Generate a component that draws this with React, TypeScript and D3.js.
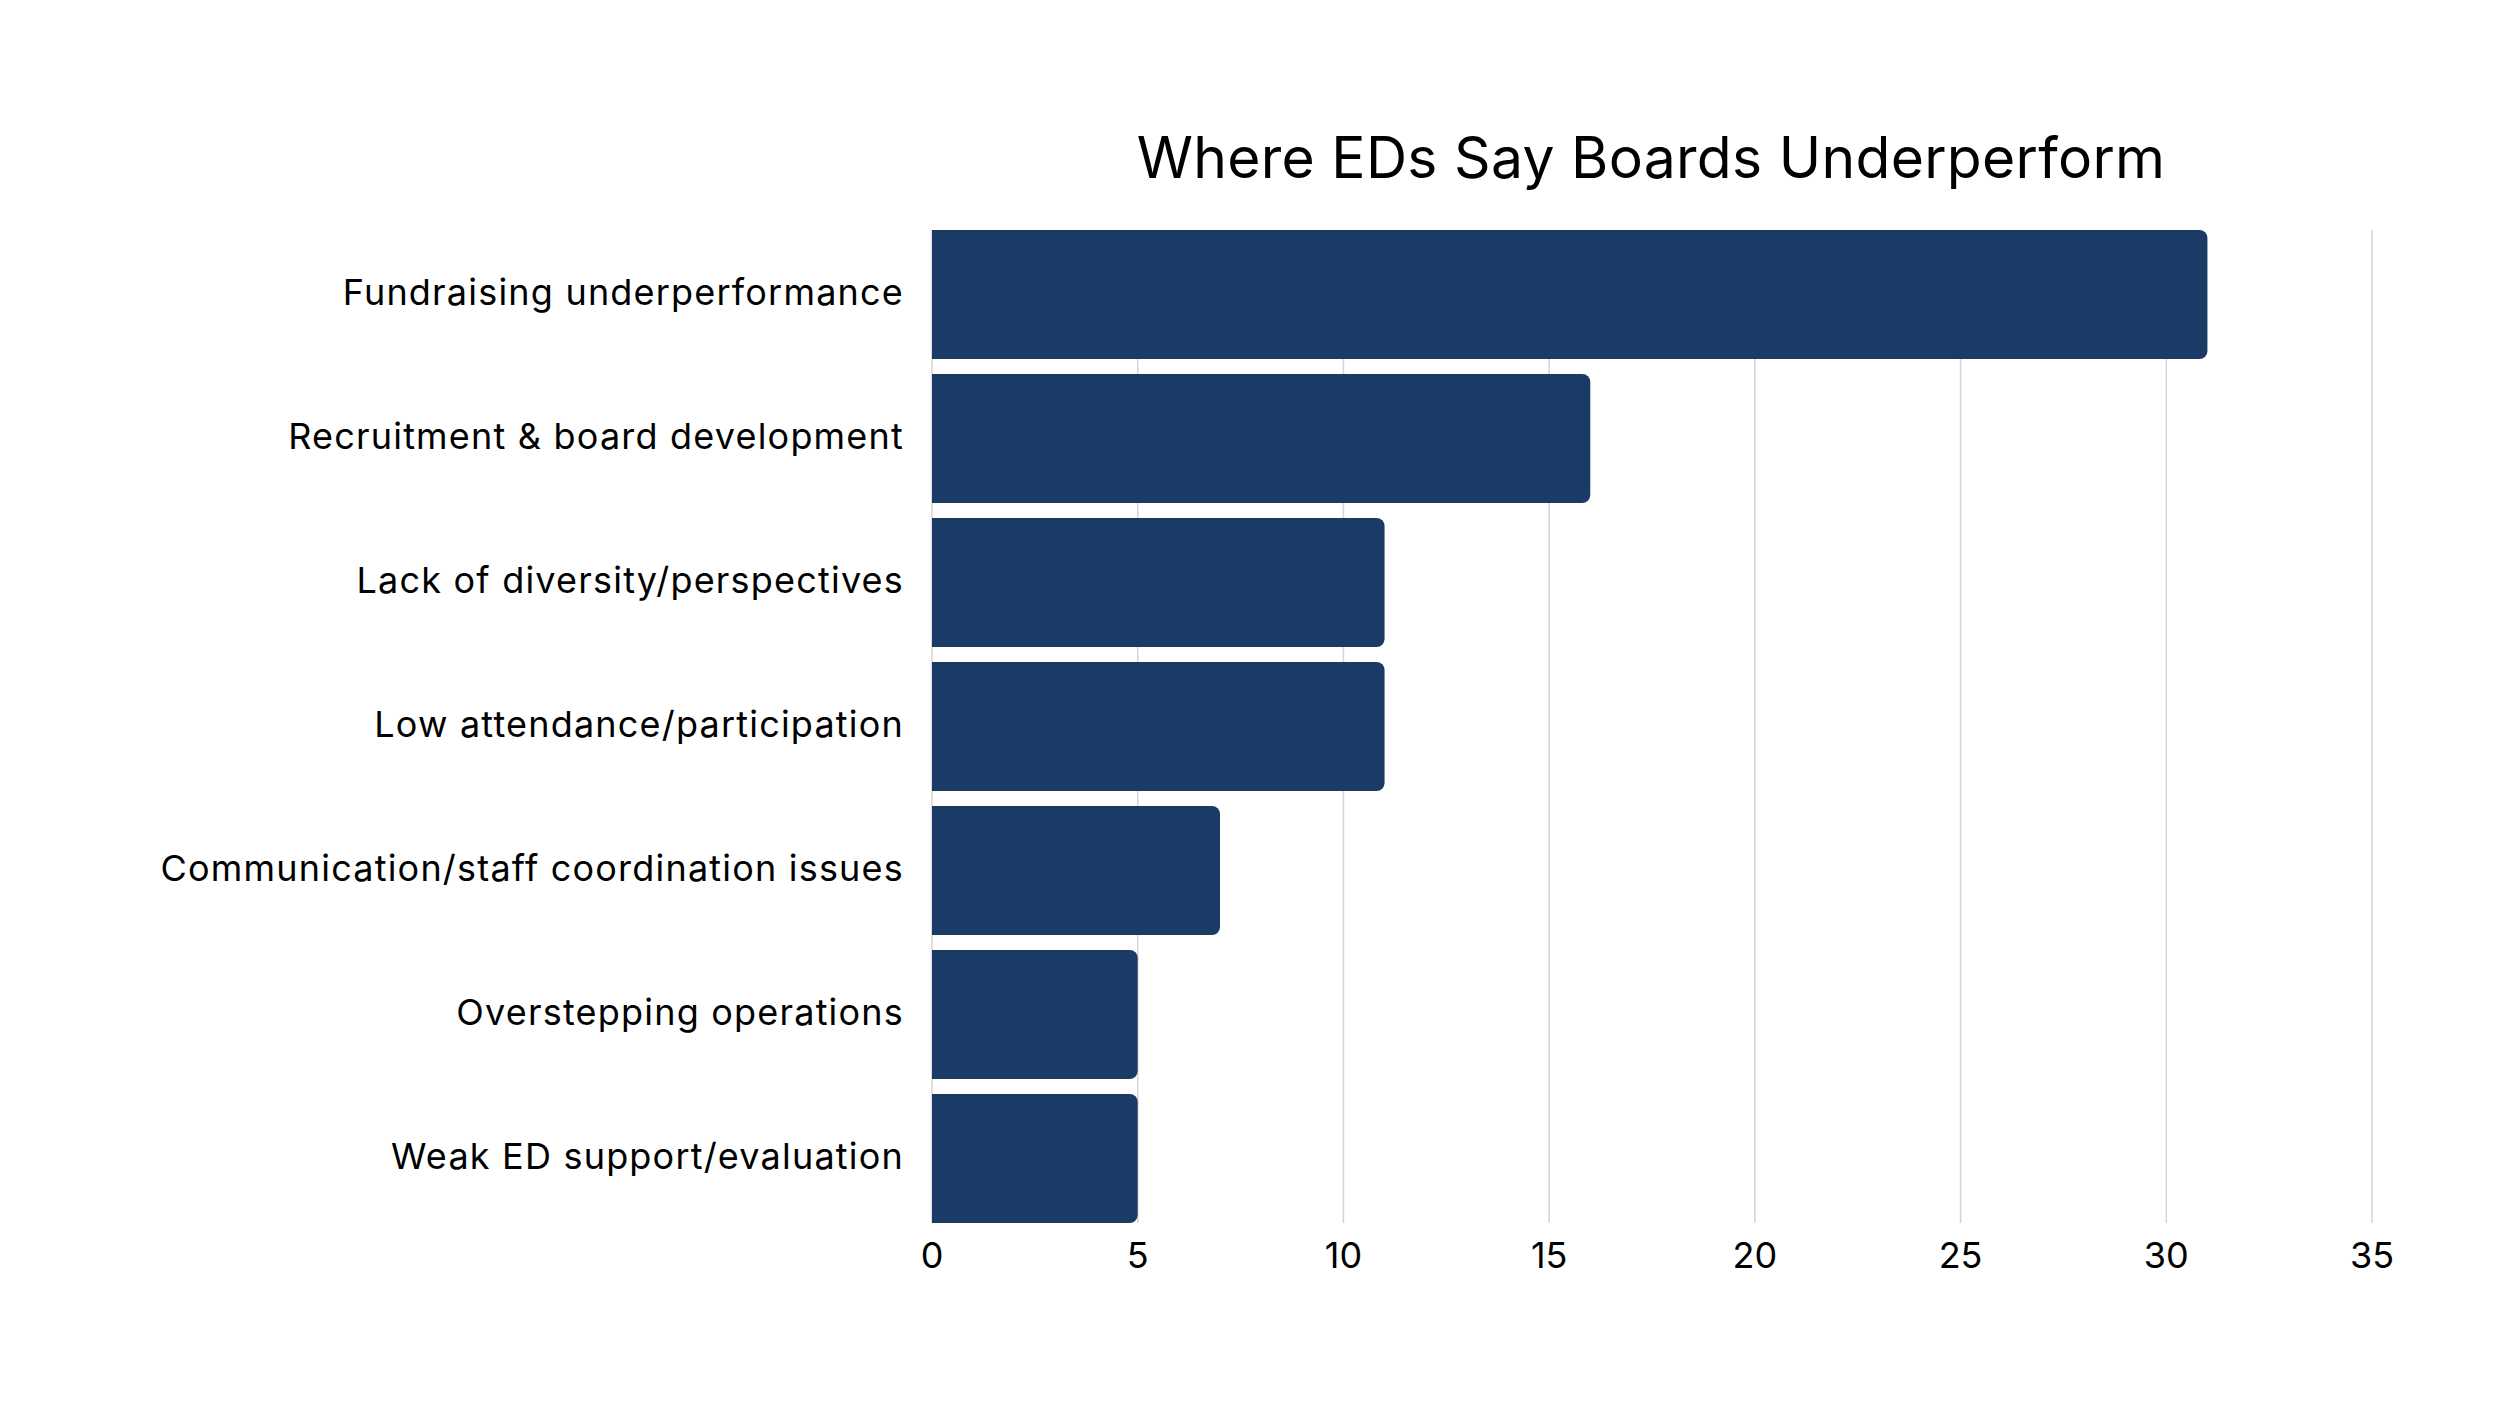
import React from "react";
import * as d3 from "d3";

const categories = [
  "Fundraising underperformance",
  "Recruitment & board development",
  "Lack of diversity/perspectives",
  "Low attendance/participation",
  "Communication/staff coordination issues",
  "Overstepping operations",
  "Weak ED support/evaluation",
];
const values = [31, 16, 11, 11, 7, 5, 5];
const ticks = [0, 5, 10, 15, 20, 25, 30, 35];
const title = "Where EDs Say Boards Underperform";

const W = 2500;
const H = 1406;
const FONT = "Inter, 'Noto Sans', sans-serif";

export default function App() {
  const x = d3.scaleLinear().domain([0, 35]).range([932, 2372]);
  const y = d3
    .scaleBand<string>()
    .domain(categories)
    .range([230, 1223])
    .paddingInner(0.104)
    .paddingOuter(0);
  const bw = y.bandwidth();
  const r = 8;

  const barPath = (v: number, cat: string) => {
    const x0 = x(0);
    const x1 = x(v);
    const y0 = y(cat)!;
    const y1 = y0 + bw;
    const p = d3.path();
    p.moveTo(x0, y0);
    p.lineTo(x1 - r, y0);
    p.arcTo(x1, y0, x1, y0 + r, r);
    p.lineTo(x1, y1 - r);
    p.arcTo(x1, y1, x1 - r, y1, r);
    p.lineTo(x0, y1);
    p.closePath();
    return p.toString();
  };

  return (
    <div style={{ position: "absolute", left: 0, top: 0 }}>
      <svg width={W} height={H} style={{ display: "block", background: "#fff" }}>
        <rect x={0} y={0} width={W} height={H} fill="#fff" />
        <text
          x={1651}
          y={178}
          textAnchor="middle"
          fontFamily={FONT}
          fontSize={57}
          letterSpacing={0.3}
          fill="#000"
        >
          {title}
        </text>
        {ticks.map((t) => (
          <line
            key={"g" + t}
            x1={x(t)}
            x2={x(t)}
            y1={230}
            y2={1223}
            stroke="#d4d4d4"
            strokeWidth={1.5}
          />
        ))}
        {categories.map((c, i) => (
          <path key={"b" + c} d={barPath(values[i], c)} fill="#1b3a66" />
        ))}
        {categories.map((c) => (
          <text
            key={"l" + c}
            x={904}
            y={y(c)! + bw / 2}
            dy="0.3em"
            textAnchor="end"
            fontFamily={FONT}
            fontSize={36}
            letterSpacing={1.2}
            fill="#000"
          >
            {c}
          </text>
        ))}
        {ticks.map((t) => (
          <text
            key={"t" + t}
            x={x(t)}
            y={1268}
            textAnchor="middle"
            fontFamily={FONT}
            fontSize={36}
            fill="#000"
          >
            {t}
          </text>
        ))}
      </svg>
    </div>
  );
}
